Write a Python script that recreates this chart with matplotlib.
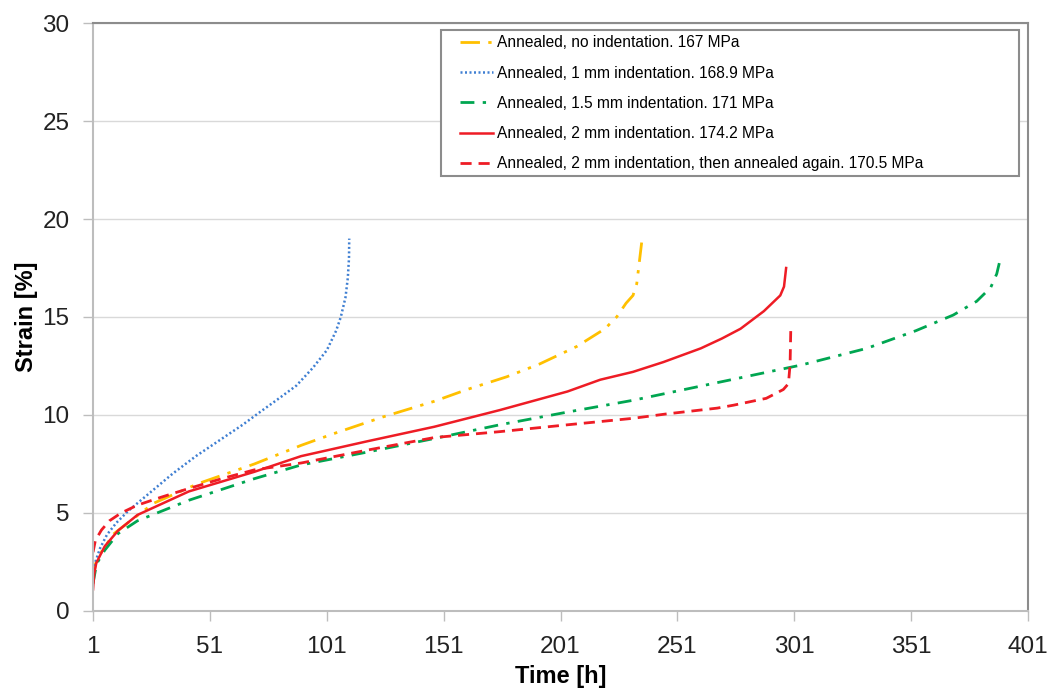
import numpy as np
import matplotlib.pyplot as plt
from matplotlib.patches import Rectangle

plt.rcParams['font.family'] = ['Liberation Sans', 'DejaVu Sans']

# creep curves: time [h] vs strain [%]
t_none = [1, 2, 5, 10, 17, 27, 46, 70, 90, 104, 125, 147, 161, 178, 192, 208, 220, 225, 229, 232, 233.6, 235, 235.7]
s_none = [1.6, 2.4, 3.1, 3.95, 4.6, 5.5, 6.5, 7.5, 8.45, 9.05, 9.9, 10.7, 11.3, 11.95, 12.6, 13.5, 14.4, 15.0, 15.7, 16.1, 16.7, 18.1, 18.8]

t_1mm = [1, 2, 4, 7, 11, 16, 21, 28, 35, 45, 55, 65, 73, 80, 88, 95, 101, 105, 107, 109, 110, 110.5, 110.6]
s_1mm = [1.6, 2.5, 3.2, 3.9, 4.5, 5.1, 5.6, 6.3, 7.0, 7.9, 8.7, 9.5, 10.2, 10.8, 11.5, 12.4, 13.3, 14.3, 15.0, 16.0, 17.0, 18.0, 19.0]

t_15mm = [1, 2.5, 6, 11.7, 20, 42, 70, 90, 118, 147, 175, 204, 232, 268, 304, 332, 353, 369, 379, 385, 387.6, 389]
s_15mm = [1.4, 2.4, 3.1, 3.95, 4.6, 5.65, 6.75, 7.45, 8.1, 8.8, 9.5, 10.15, 10.75, 11.65, 12.55, 13.4, 14.3, 15.1, 15.8, 16.5, 17.2, 17.9]

t_2mm = [1, 1.5, 2.4, 6, 11.7, 20, 42, 70, 90, 118, 147, 175, 204, 218, 232, 245, 261, 270, 278, 288, 295, 296.6, 297.5]
s_2mm = [1.1, 1.9, 2.45, 3.3, 4.1, 4.9, 6.1, 7.1, 7.9, 8.65, 9.4, 10.25, 11.2, 11.8, 12.2, 12.7, 13.4, 13.9, 14.4, 15.3, 16.1, 16.55, 17.5]

t_2mm_re = [1, 2, 4.6, 8, 13, 20, 30, 42, 56, 70, 90, 118, 147, 175, 204, 232, 246, 268, 275, 289, 296.3, 298.5, 299.2, 299.5]
s_2mm_re = [3.0, 3.6, 4.13, 4.6, 5.0, 5.4, 5.8, 6.25, 6.75, 7.2, 7.55, 8.2, 8.85, 9.15, 9.5, 9.83, 10.05, 10.35, 10.5, 10.85, 11.3, 11.6, 12.6, 14.4]

labels = ["Annealed, no indentation. 167 MPa",
          "Annealed, 1 mm indentation. 168.9 MPa",
          "Annealed, 1.5 mm indentation. 171 MPa",
          "Annealed, 2 mm indentation. 174.2 MPa",
          "Annealed, 2 mm indentation, then annealed again. 170.5 MPa"]

x_ticks = np.arange(1, 402, 50)
y_ticks = np.arange(0, 31, 5)

fig = plt.figure(figsize=(10.5, 6.91), dpi=100)
ax = fig.add_axes([0.0886, 0.1158, 0.8905, 0.8509])

ax.plot(t_none, s_none, color="#FFC000", lw=2, linestyle=(0, (7, 3, 1.2, 3, 1.2, 3)), label=labels[0])
ax.plot(t_1mm, s_1mm, color="#3F7FD2", lw=1.8, linestyle=(0, (0.8, 1.0)), label=labels[1])
ax.plot(t_15mm, s_15mm, color="#00A651", lw=2, linestyle=(0, (5, 3, 1.2, 3)), label=labels[2])
ax.plot(t_2mm, s_2mm, color="#EE1C25", lw=1.8, linestyle="-", label=labels[3])
ax.plot(t_2mm_re, s_2mm_re, color="#EE1C25", lw=2, linestyle=(0, (4, 2.5)), label=labels[4])

ax.set_xlim(1, 401)
ax.set_ylim(0, 30)
ax.set_xticks(x_ticks)
ax.set_yticks(y_ticks)
ax.grid(axis="y", color="#D9D9D9", lw=1)
ax.set_axisbelow(True)

for side in ["left", "bottom"]:
    ax.spines[side].set_color("#BDBDBD")
    ax.spines[side].set_linewidth(1.5)
for side in ["top", "right"]:
    ax.spines[side].set_color("#8C8C8C")
    ax.spines[side].set_linewidth(1.5)

ax.tick_params(axis="both", direction="out", length=7, width=1, color="#BDBDBD",
               labelsize=17.5, labelcolor="#222222")
ax.tick_params(axis="y", pad=10)
ax.tick_params(axis="x", pad=11)

ax.set_xlabel("Time [h]", fontsize=17, fontweight="bold", labelpad=5)
ax.set_ylabel("Strain [%]", fontsize=17, fontweight="bold", labelpad=3)

# legend box drawn separately so it can be wider than its entries
ax.add_patch(Rectangle((0.3722, 0.7398), 0.6182, 0.2483, transform=ax.transAxes,
                       facecolor="white", edgecolor="#8C8C8C", lw=1.5, zorder=4))
leg = ax.legend(loc="upper left", bbox_to_anchor=(0.3925, 0.979), fontsize=11.2,
                handlelength=2.1, handletextpad=0.3, labelspacing=0.98,
                borderpad=0, borderaxespad=0, frameon=False)
leg.set_zorder(5)

fig.savefig("out.png", dpi=100)
